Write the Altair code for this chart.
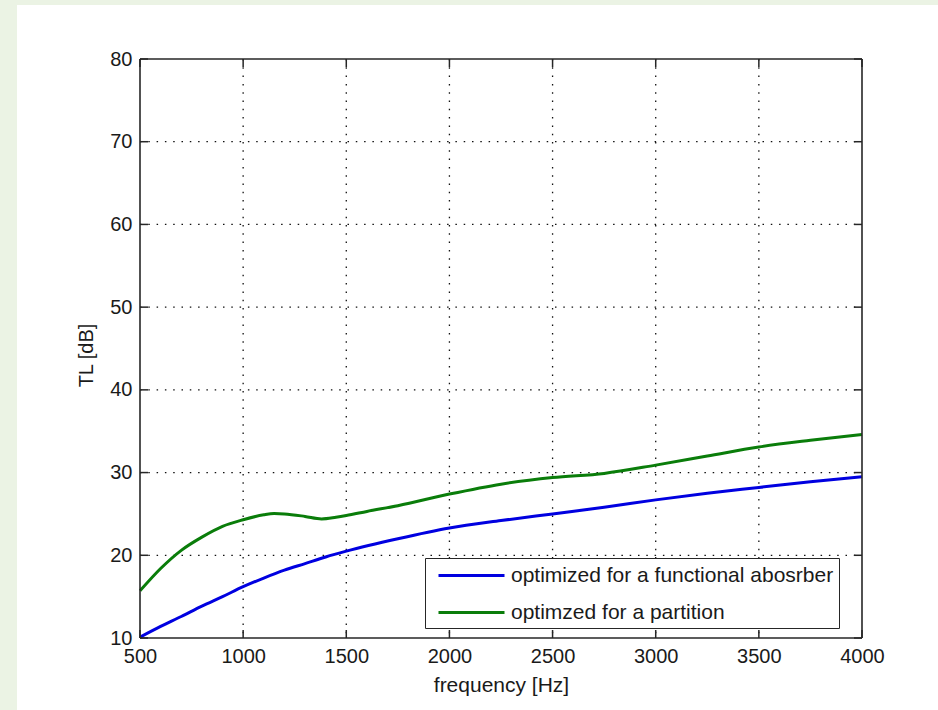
import altair as alt
import pandas as pd

# ---- data ----
series_names = ["optimized for a functional abosrber", "optimzed for a partition"]
series_colors = ["#0000e0", "#0a7d0a"]

freq_blue = [500, 600, 700, 800, 900, 1000, 1100, 1200, 1300, 1400, 1500, 1750,
             2000, 2250, 2500, 2750, 3000, 3250, 3500, 3750, 4000]
tl_blue = [10.1, 11.4, 12.6, 13.85, 15.0, 16.2, 17.25, 18.2, 19.0, 19.8, 20.5, 22.0,
           23.3, 24.2, 25.0, 25.8, 26.7, 27.5, 28.2, 28.9, 29.5]

freq_green = [500, 600, 700, 800, 900, 1000, 1100, 1150, 1200, 1300, 1380, 1450, 1500,
              1600, 1750, 2000, 2250, 2500, 2750, 3000, 3250, 3500, 3750, 4000]
tl_green = [15.7, 18.4, 20.6, 22.2, 23.5, 24.3, 24.9, 25.05, 25.0, 24.7, 24.4, 24.6, 24.8,
            25.3, 26.0, 27.4, 28.6, 29.4, 29.9, 30.9, 32.0, 33.1, 33.9, 34.6]

x_ticks = [500, 1000, 1500, 2000, 2500, 3000, 3500, 4000]
y_ticks = [10, 20, 30, 40, 50, 60, 70, 80]

x_title = "frequency [Hz]"
y_title = "TL [dB]"

# ---- tables ----
df = pd.concat([
    pd.DataFrame({"f": freq_blue, "tl": tl_blue, "s": series_names[0]}),
    pd.DataFrame({"f": freq_green, "tl": tl_green, "s": series_names[1]}),
])

W, H = 722, 579
FONT = "Liberation Sans"
BOX = "#262626"
TXT = "#1a1a1a"

xs = alt.Scale(domain=[x_ticks[0], x_ticks[-1]], nice=False, zero=False)
ys = alt.Scale(domain=[y_ticks[0], y_ticks[-1]], nice=False, zero=False)

x_axis = alt.Axis(values=x_ticks, grid=False, domain=False, ticks=False, tickSize=0,
                  labelFontSize=20, labelFont=FONT, labelColor=TXT, labelPadding=8,
                  title=x_title, titleFont=FONT, titleFontSize=21, titleFontWeight="normal",
                  titleColor=TXT, titleBaseline="alphabetic", titleY=53, titleX=W / 2,
                  zindex=1, labelFlush=False, labelOverlap=False, format="d")
y_axis = alt.Axis(values=y_ticks, grid=False, domain=False, ticks=False, tickSize=0,
                  labelFontSize=20, labelFont=FONT, labelColor=TXT, labelPadding=8,
                  title=y_title, titleFont=FONT, titleFontSize=20, titleFontWeight="normal",
                  titleColor=TXT, titleBaseline="alphabetic", titleX=-48, titleY=296,
                  titleAngle=270, zindex=1, labelFlush=False, labelOverlap=False, format="d")

dummy = pd.DataFrame({"a": [0]})

# white figure panel over the light green page background (decoration)
panel = alt.Chart(dummy).mark_rect(color="white", clip=False).encode(
    x=alt.value(-123), x2=alt.value(W + 76), y=alt.value(-54), y2=alt.value(H + 72)
)

xgrid = alt.Chart(pd.DataFrame({"x": x_ticks[1:-1]})).mark_rule(
    color="#111", strokeWidth=1.3, strokeDash=[1.5, 6.8]
).encode(x=alt.X("x:Q", scale=xs, axis=x_axis), y=alt.value(0), y2=alt.value(H))

ygrid = alt.Chart(pd.DataFrame({"y": y_ticks[1:-1]})).mark_rule(
    color="#111", strokeWidth=1.3, strokeDash=[1.5, 6.8]
).encode(y=alt.Y("y:Q", scale=ys, axis=y_axis), x=alt.value(0), x2=alt.value(W))

lines = alt.Chart(df).mark_line(strokeWidth=3, interpolate="monotone").encode(
    x=alt.X("f:Q", scale=xs, axis=x_axis),
    y=alt.Y("tl:Q", scale=ys, axis=y_axis),
    color=alt.Color("s:N", scale=alt.Scale(domain=series_names, range=series_colors),
                    sort=series_names,
                    legend=alt.Legend(title=None, orient="none", legendX=285, legendY=499,
                                      fillColor="white", strokeColor=BOX, padding=5,
                                      labelFontSize=21, labelFont=FONT, labelColor=TXT,
                                      symbolType="M-5,0H1", symbolSize=484,
                                      symbolOffset=51, labelOffset=5,
                                      symbolStrokeWidth=3, rowPadding=14,
                                      labelLimit=600)),
)

xt = pd.DataFrame({"x": x_ticks})
yt = pd.DataFrame({"y": y_ticks})
tick_b = alt.Chart(xt).mark_rule(color=BOX, strokeWidth=1.5).encode(
    x=alt.X("x:Q", scale=xs, axis=x_axis), y=alt.value(H), y2=alt.value(H - 8))
tick_t = alt.Chart(xt).mark_rule(color=BOX, strokeWidth=1.5).encode(
    x=alt.X("x:Q", scale=xs, axis=x_axis), y=alt.value(0), y2=alt.value(8))
tick_l = alt.Chart(yt).mark_rule(color=BOX, strokeWidth=1.5).encode(
    y=alt.Y("y:Q", scale=ys, axis=y_axis), x=alt.value(0), x2=alt.value(8))
tick_r = alt.Chart(yt).mark_rule(color=BOX, strokeWidth=1.5).encode(
    y=alt.Y("y:Q", scale=ys, axis=y_axis), x=alt.value(W - 8), x2=alt.value(W))

box_v = alt.Chart(pd.DataFrame({"x": [x_ticks[0], x_ticks[-1]]})).mark_rule(
    color=BOX, strokeWidth=1.6).encode(
    x=alt.X("x:Q", scale=xs, axis=x_axis), y=alt.value(0), y2=alt.value(H))
box_h = alt.Chart(pd.DataFrame({"y": [y_ticks[0], y_ticks[-1]]})).mark_rule(
    color=BOX, strokeWidth=1.6).encode(
    y=alt.Y("y:Q", scale=ys, axis=y_axis), x=alt.value(0), x2=alt.value(W))

chart = alt.layer(panel, xgrid, ygrid, lines, tick_b, tick_t, tick_l, tick_r, box_v, box_h).properties(
    width=W, height=H,
    background="#ebf3e4",
    padding={"left": 140, "top": 59, "right": 76, "bottom": 72},
    autosize=alt.AutoSizeParams(type="none"),
).configure_view(stroke=None)

chart.save("out.html", embed_options={"renderer": "svg", "actions": False})
